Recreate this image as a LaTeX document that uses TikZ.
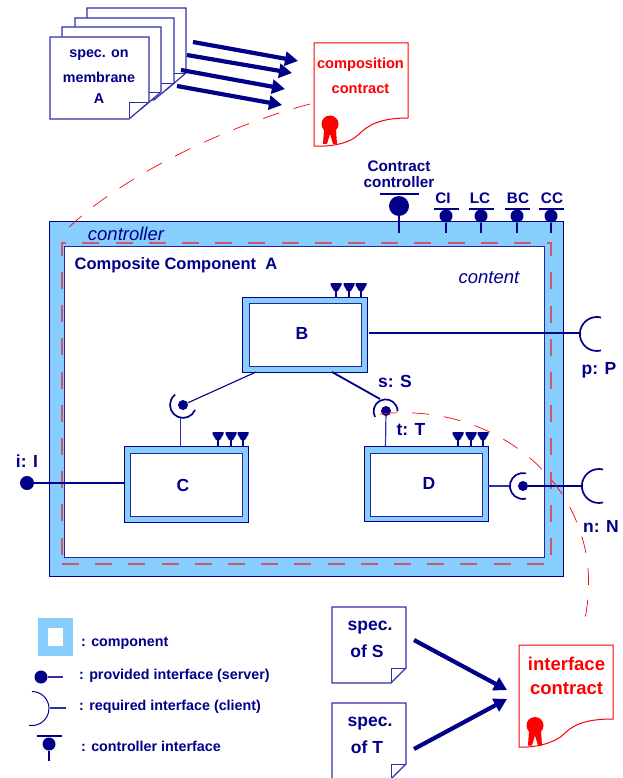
\documentclass[tikz,border=0pt]{standalone}
\usepackage{fontspec}
\setmainfont{Liberation Sans}
\usetikzlibrary{arrows.meta}
\definecolor{navy}{HTML}{000088}
\definecolor{pagecol}{HTML}{3030A8}
\definecolor{skyfill}{HTML}{87CEFF}
\definecolor{memred}{HTML}{D0566E}
\tikzset{
	lbl/.style={font=\fontsize{14.3}{16}\selectfont\bfseries, text=navy, inner sep=0pt},
	ctllbl/.style={font=\fontsize{15.3}{16}\selectfont\bfseries, text=navy, inner sep=0pt},
	biglbl/.style={font=\fontsize{17.5}{20}\selectfont\bfseries, text=navy, inner sep=0pt},
	redlbl/.style={font=\fontsize{14.6}{16}\selectfont\bfseries, text=red, inner sep=0pt},
	itlbl/.style={font=\fontsize{18.5}{20}\selectfont\itshape, text=navy, inner sep=0pt},
	outerbox/.style={draw=navy, fill=skyfill, line width=0.9pt, inner sep=0pt},
	innerbox/.style={draw=navy!85!white, fill=white, line width=0.9pt, inner sep=0pt},
	ifdot/.style={circle, fill=navy, inner sep=0pt, minimum size=#1},
	wire/.style={navy, line width=1.8pt},
	thinwire/.style={pagecol, line width=1.2pt},
	bigarrow/.style={navy, line width=4.2pt, -{Triangle[length=13pt,width=14pt]}},
	redcurve/.style={red, line width=0.7pt, dash pattern=on 17pt off 15pt}
}
\newcommand{\docpage}[3]{% x, y, name
	\draw[pagecol, line width=1.2pt, fill=white] (#1,#2) -- ++(99,0) -- ++(0,65) -- ++(-20,17) -- ++(-79,0) -- cycle;
	\draw[pagecol, line width=0.9pt] (#1+79,#2+82) -- ++(0,-17) -- ++(20,0);
	\coordinate (#3) at (#1,#2);
}
\newcommand{\sealmark}[2]{% x, y
	\fill[red] (#1-7,#2+20) -- (#1-6,#2+5) -- (#1+6,#2+5) -- (#1+7,#2+20) -- (#1+3,#2+20) -- (#1,#2+10) -- (#1-3,#2+20) -- cycle;
	\fill[red] (#1,#2) circle (8.5);
}
\begin{document}
\begin{tikzpicture}[x=1pt, y=-1pt, line join=miter]
	\useasboundingbox (0,0) rectangle (622,778);
	% membrane
	\node[outerbox, minimum width=514, minimum height=355] (memb) at (306,398.5) {};
	\node[innerbox, minimum width=480, minimum height=311] (cont) at (304,401.5) {};
	\draw[memred, line width=1.4pt, dash pattern=on 17pt off 16.2pt] (62,564) -- (551,564) -- (551,243) -- (62,243) -- cycle;
	\node[itlbl] (ctrltxt) at (126,233.5) {controller};
	\node[itlbl] (conttxt) at (489,277.5) {content};
	\node[font=\fontsize{16.5}{20}\selectfont\bfseries, text=navy, inner sep=0pt] (comptxt) at (176,265.5) {Composite Component~~A};
	% sub components
	\node[outerbox, minimum width=125, minimum height=75] (Bout) at (304.5,334.5) {};
	\node[innerbox, minimum width=112, minimum height=63] (B) at (305,334.5) {};
	\node[biglbl] (Btxt) at (302,333.5) {B};
	\node[outerbox, minimum width=124, minimum height=76] (Cout) at (186,484) {};
	\node[innerbox, minimum width=112, minimum height=63] (C) at (186,484.5) {};
	\node[biglbl] (Ctxt) at (183,485.5) {C};
	\node[outerbox, minimum width=124, minimum height=75] (Dout) at (426,483.5) {};
	\node[innerbox, minimum width=112, minimum height=63] (D) at (426,484.5) {};
	\node[biglbl] (Dtxt) at (429,483) {D};
	% ports on top of sub components
	\foreach \x/\y in {336/297,349/297,361/297,218/446,231/446,243/446,458/446,471/446,483/446}{
		\fill[navy] (\x-5.5,\y-14) -- (\x+5.5,\y-14) -- (\x+5.5,\y-12) -- (\x+2,\y-6) -- (\x-2,\y-6) -- (\x-5.5,\y-12) -- cycle;
		\draw[navy, line width=1.3pt] (\x,\y-7) -- (\x,\y);
	}
	% controller interfaces
	\node[ifdot=20pt] (ctc) at (399,206) {};
	\draw[wire] (380,194) -- (419,194);
	\coordinate (ctcend) at (399,233);
	\draw[wire] (ctc) -- (ctcend);
	\foreach \nm/\x/\lx in {CI/446/443,LC/481/480,BC/517/518,CC/551/552}{
		\node[ifdot=13pt] (\nm) at (\x,216) {};
		\coordinate (\nm end) at (\x,233);
		\draw[wire] (\nm) -- (\nm end);
		\draw[wire] (\x-12.5,209) -- (\x+12.5,209);
		\node[ctllbl] (\nm txt) at (\lx,198) {\nm};
	}
	\node[ctllbl, align=center] (ctctxt) at (399,174) {Contract\\controller};
	% i: I
	\node[ifdot=14pt] (iI) at (27,483) {};
	\draw[navy, line width=2pt] (iI) -- (Cout.west |- iI);
	\node[biglbl] (iItxt) at (27,461) {i: I};
	% p: P
	\coordinate (pP) at (580,333);
	\coordinate (Bright) at (369,333);
	\draw[wire] (Bright) -- (pP);
	\draw[navy, line width=1.7pt] (601,317.5) arc[start angle=-76, end angle=-284, radius=17];
	\node[biglbl] (pPtxt) at (599,370) {p: P};
	% n: N
	\node[ifdot=10pt] (nD) at (523,486) {};
	\coordinate (nN) at (582,486);
	\draw[navy, line width=2pt] (nD) -- (nN);
	\coordinate (Dright) at (510,486);
	\draw[thinwire] (Dout.east |- Dright) -- (Dright);
	\draw[navy, line width=1.7pt] (526,473.4) arc[start angle=-76, end angle=-284, radius=13];
	\draw[navy, line width=1.7pt] (603,469.5) arc[start angle=-76, end angle=-284, radius=17];
	\node[biglbl] (nNtxt) at (601,526) {n: N};
	% C to B
	\node[ifdot=10pt] (cB) at (183,405) {};
	\coordinate (Bsw) at (256,372);
	\draw[navy, line width=1.1pt] (cB) -- (Bsw);
	\draw[navy, line width=1.7pt] (195,410) arc[start angle=23, end angle=233, radius=13];
	\coordinate (cBstem) at (180.5,418);
	\coordinate (Ctop) at (180.5,446);
	\draw[thinwire] (cBstem) -- (Ctop);
	% D to B
	\node[ifdot=10pt] (sD) at (386,411) {};
	\coordinate (Bse) at (332,372);
	\coordinate (sArc) at (380,399);
	\draw[wire] (Bse) -- (sArc);
	\draw[navy, line width=1.7pt] (375,417) arc[start angle=-208, end angle=0, radius=12];
	\coordinate (Dtop) at (385.5,446);
	\draw[thinwire] (sD) -- (Dtop);
	\node[biglbl] (sStxt) at (395,381) {s: S};
	\node[biglbl] (tTtxt) at (411,430) {t: T};
	% spec on membrane
	\docpage{87}{8}{pg4}
	\docpage{75}{18}{pg3}
	\docpage{62}{27}{pg2}
	\docpage{50}{37}{pg1}
	\node[lbl] (sp1) at (99,55) {spec. on};
	\node[lbl] (sp2) at (99,77) {membrane};
	\node[lbl] (sp3) at (99,98.5) {A};
	\coordinate (a1s) at (193,42); \coordinate (a1e) at (298,61);
	\coordinate (a2s) at (187,55); \coordinate (a2e) at (292,73);
	\coordinate (a3s) at (181,70); \coordinate (a3e) at (285,89);
	\coordinate (a4s) at (177,86); \coordinate (a4e) at (282,105);
	\foreach \n in {1,2,3,4}{
		\draw[bigarrow] (a\n s) -- (a\n e);
	}
	% composition contract
	\draw[red, line width=1pt, fill=white] (314,43) -- (408,43) -- (408,118) .. controls (380,118) and (368,125) .. (358,135) .. controls (350,143) and (332,147) .. (314,146) -- cycle;
	\sealmark{330}{124}
	\node[redlbl] (cc1) at (360.5,65) {composition};
	\node[redlbl] (cc2) at (360.5,88.5) {contract};
	% interface contract
	\draw[red, line width=1pt, fill=white] (519,645) -- (613,645) -- (613,719) .. controls (590,719) and (575,723) .. (565,733) .. controls (557,742) and (537,748) .. (519,747) -- cycle;
	\sealmark{535}{725.5}
	\node[font=\fontsize{18.5}{20}\selectfont\bfseries, text=red, inner sep=0pt] (ic1) at (566.5,664) {interface};
	\node[font=\fontsize{18.5}{20}\selectfont\bfseries, text=red, inner sep=0pt] (ic2) at (566.5,689) {contract};
	% spec of S, spec of T
	\draw[pagecol, line width=1.2pt, fill=white] (332,607) -- (406,607) -- (406,668) -- (391,683) -- (332,683) -- cycle;
	\draw[pagecol, line width=0.9pt] (391,683) -- (391,668) -- (406,668);
	\draw[pagecol, line width=1.2pt, fill=white] (332,703) -- (406,703) -- (406,764) -- (391,779) -- (332,779) -- cycle;
	\draw[pagecol, line width=0.9pt] (391,779) -- (391,764) -- (406,764);
	\node[biglbl] (sS1) at (370,628) {spec.};
	\node[biglbl] (sS2) at (367,651.5) {of S};
	\node[biglbl] (sT1) at (370,724) {spec.};
	\node[biglbl] (sT2) at (367,747.5) {of T};
	\coordinate (bS) at (414,640); \coordinate (bT) at (414,749);
	\coordinate (eS) at (507,690); \coordinate (eT) at (507,699);
	\draw[bigarrow] (bS) -- (eS);
	\draw[bigarrow] (bT) -- (eT);
	% contract curves
	\coordinate (k1) at (310,104); \coordinate (k2) at (62,234);
	\draw[redcurve] (k1) .. controls (230,125) and (120,175) .. (k2);
	\coordinate (k3) at (380,414); \coordinate (k4) at (583,627);
	\draw[redcurve] (k3) .. controls (505,400) and (615,500) .. (k4);
	% legend
	\fill[skyfill] (38,618) rectangle (73,656);
	\fill[white] (48,628) rectangle (63,646);
	\node[lbl, anchor=west] (lg1) at (81,643.5) {: component};
	\node[ifdot=13pt] (lgp) at (41,677) {};
	\coordinate (lgpe) at (63,677);
	\draw[thinwire] (lgp) -- (lgpe);
	\node[lbl, anchor=west] (lg2) at (79,675.5) {: provided interface (server)};
	\draw[navy, line width=1pt] (32,691.5) arc[start angle=-90, end angle=100, radius=17];
	\coordinate (lgr) at (50,708); \coordinate (lgre) at (66,708);
	\draw[thinwire] (lgr) -- (lgre);
	\node[lbl, anchor=west] (lg3) at (79,706.5) {: required interface (client)};
	\node[ifdot=13pt] (lgc) at (49,744) {};
	\coordinate (lgce) at (49,761);
	\draw[wire] (lgc) -- (lgce);
	\draw[wire] (37,736) -- (62,736);
	\node[lbl, anchor=west] (lg4) at (81,746.5) {: controller interface};
\end{tikzpicture}
\end{document}
